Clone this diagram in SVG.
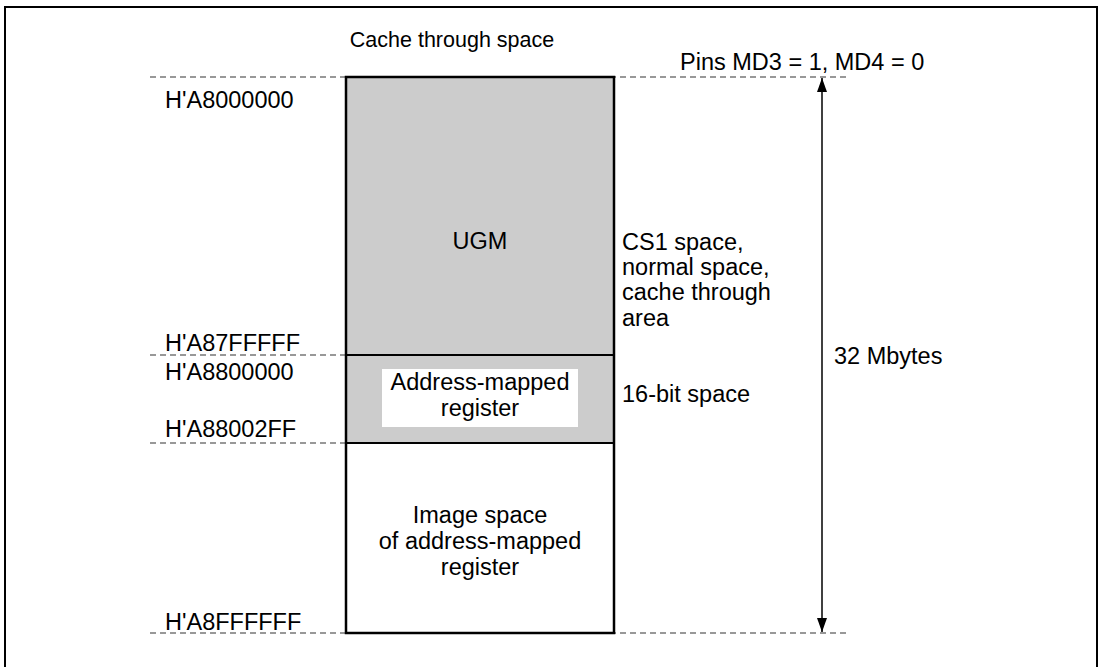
<svg xmlns="http://www.w3.org/2000/svg" width="1101" height="667" viewBox="0 0 1101 667">
<style>
text{font-family:"Liberation Sans",Arial,sans-serif;font-size:23.5px;fill:#000}
.dash{stroke:#777;stroke-width:1.5;stroke-dasharray:6 4;fill:none}
.mid{text-anchor:middle}
.title{font-size:21.5px}
</style>
<defs>
<marker id="ah" viewBox="0 0 14 10" refX="14" refY="5" markerWidth="14" markerHeight="10" markerUnits="userSpaceOnUse" orient="auto-start-reverse"><path d="M0,0 L14,5 L0,10 z" fill="#000"/></marker>
</defs>
<rect x="0" y="0" width="1101" height="667" fill="#fff"/>
<rect x="5" y="7" width="1092" height="700" fill="none" stroke="#000" stroke-width="2"/>
<g id="guides">
<line class="dash" x1="150" y1="77" x2="850" y2="77"/>
<line class="dash" x1="150" y1="355" x2="346" y2="355"/>
<line class="dash" x1="150" y1="443" x2="346" y2="443"/>
<line class="dash" x1="150" y1="633" x2="850" y2="633"/>
</g>
<g id="memory">
<rect x="346" y="77" width="268" height="366" fill="#ccc"/>
<rect x="346" y="443" width="268" height="190" fill="#fff"/>
<rect x="346" y="77" width="268" height="556" fill="none" stroke="#000" stroke-width="2.5"/>
<line x1="346" y1="355" x2="614" y2="355" stroke="#000" stroke-width="2"/>
<line x1="346" y1="443" x2="614" y2="443" stroke="#000" stroke-width="2"/>
</g>
<g id="ugm"><text class="mid" x="480" y="249">UGM</text></g>
<g id="amr">
<rect x="382" y="369" width="196" height="58" fill="#fff"/>
<text class="mid" x="480" y="390">Address-mapped</text>
<text class="mid" x="480" y="416">register</text>
</g>
<g id="image">
<text class="mid" x="480" y="523">Image space</text>
<text class="mid" x="480" y="549">of address-mapped</text>
<text class="mid" x="480" y="575">register</text>
</g>
<g id="connectors">
<line x1="822" y1="78" x2="822" y2="632" stroke="#000" stroke-width="1.5" marker-start="url(#ah)" marker-end="url(#ah)"/>
</g>
<g id="labels">
<text class="mid title" x="452" y="47">Cache through space</text>
<text x="680" y="70">Pins MD3 = 1, MD4 = 0</text>
<text x="165" y="108">H'A8000000</text>
<text x="165" y="351">H'A87FFFFF</text>
<text x="165" y="380">H'A8800000</text>
<text x="165" y="437">H'A88002FF</text>
<text x="165" y="630">H'A8FFFFFF</text>
<text x="622" y="250">CS1 space,</text>
<text x="622" y="275">normal space,</text>
<text x="622" y="300">cache through</text>
<text x="622" y="326">area</text>
<text x="622" y="402">16-bit space</text>
<text x="834" y="364">32 Mbytes</text>
</g>
</svg>
